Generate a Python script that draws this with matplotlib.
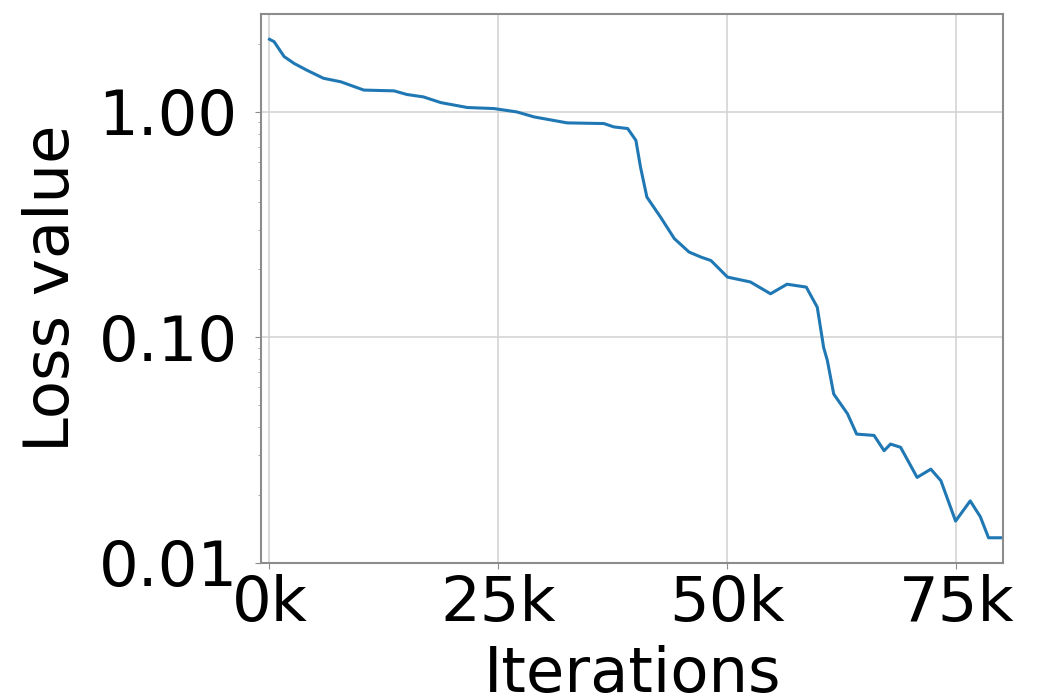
import numpy as np
import matplotlib
matplotlib.use("Agg")
import matplotlib.pyplot as plt
from matplotlib.ticker import FuncFormatter, LogLocator, FixedLocator

# training loss curve (iterations in thousands)
iters_k = [0.0, 0.5, 1.6, 2.7, 4.1, 5.9, 7.8, 10.3, 13.6, 15.0, 16.8, 18.7,
           21.6, 24.5, 27.0, 28.9, 32.5, 36.5, 37.6, 39.1, 40.0, 40.5, 41.2,
           42.7, 44.2, 45.8, 47.1, 48.2, 50.0, 52.5, 54.7, 56.5, 58.6, 59.8,
           60.5, 60.9, 61.6, 63.1, 64.1, 66.0, 67.1, 67.8, 68.9, 70.7, 72.2,
           73.3, 74.9, 76.5, 77.6, 78.5, 80.0]
loss = [2.10, 2.05, 1.76, 1.64, 1.53, 1.41, 1.36, 1.25, 1.24, 1.195, 1.166,
        1.10, 1.046, 1.035, 1.0, 0.95, 0.894, 0.888, 0.858, 0.844, 0.748,
        0.57, 0.419, 0.341, 0.274, 0.239, 0.227, 0.219, 0.185, 0.176, 0.156,
        0.172, 0.167, 0.136, 0.090, 0.079, 0.056, 0.0458, 0.0372, 0.0367,
        0.0314, 0.0336, 0.0325, 0.0239, 0.026, 0.0231, 0.0153, 0.0188,
        0.016, 0.0129, 0.0129]

x_ticks = [0, 25000, 50000, 75000]
y_ticks = [0.01, 0.1, 1.0]

fig = plt.figure(figsize=(10.45, 6.99), dpi=100)
ax = fig.add_axes([0.25, 0.195, 0.71, 0.785])

ax.plot(np.array(iters_k) * 1000, loss, color="#1f77b4", linewidth=2.2)

ax.set_yscale("log")
ax.set_xlim(-900, 80100)
ax.set_ylim(0.01, 2.72)

ax.xaxis.set_major_locator(FixedLocator(x_ticks))
ax.xaxis.set_major_formatter(FuncFormatter(lambda v, p: "%dk" % int(v / 1000)))
ax.yaxis.set_major_locator(FixedLocator(y_ticks))
ax.yaxis.set_major_formatter(FuncFormatter(lambda v, p: "%.2f" % v))
ax.yaxis.set_minor_locator(LogLocator(base=10, subs=np.arange(2, 10)))
ax.yaxis.set_minor_formatter(FuncFormatter(lambda v, p: ""))

ax.grid(True, which="major", color="0.82", linewidth=1.1)
for s in ax.spines.values():
    s.set_color("0.55")
    s.set_linewidth(1.5)
ax.tick_params(axis="both", which="major", labelsize=45, length=4,
               color="0.55")
ax.tick_params(axis="x", which="major", pad=4)
ax.tick_params(axis="y", which="major", pad=13)
ax.tick_params(axis="y", which="minor", length=2.5, color="0.6")

ax.set_xlabel("Iterations", fontsize=45, labelpad=8)
ax.set_ylabel("Loss value", fontsize=45, labelpad=12)

fig.savefig("out.png", dpi=100)
